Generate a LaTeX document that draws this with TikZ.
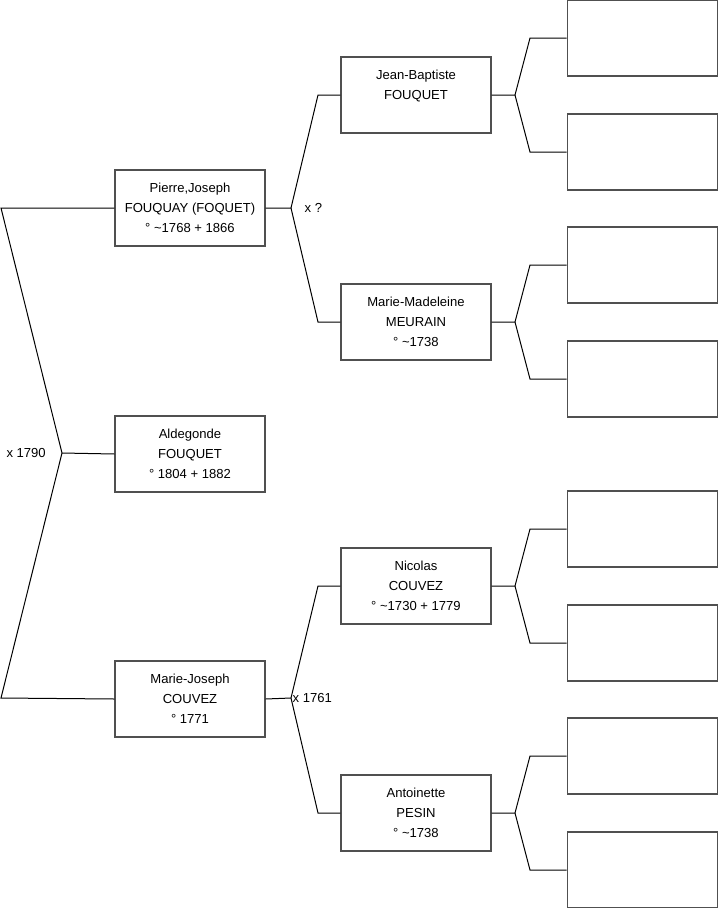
\documentclass[tikz,border=0pt]{standalone}
\usepackage{fontspec}
\setmainfont{Liberation Sans}
\usetikzlibrary{positioning}
\definecolor{boxgrey}{RGB}{80, 80, 80}
\tikzset{
  person/.style={
    draw=boxgrey,
    line width=0.8pt,
    fill=white,
    minimum width=112.5pt,
    minimum height=57pt,
    inner sep=0pt,
    align=center,
    font=\fontsize{9.8}{15}\selectfont
  },
  emptybox/.style={
    person,
    minimum width=113pt
  },
  link/.style={
    draw=black,
    line width=0.75pt
  },
  marriage/.style={
    inner sep=0pt,
    font=\fontsize{9.8}{11}\selectfont
  }
}

\begin{document}
\begin{tikzpicture}[x=0.75pt, y=-0.75pt]
  \useasboundingbox (0,0) rectangle (719,908);

  % generation 1 and 2
  \node[person] (pj) at (190,208) {Pierre,Joseph\\FOUQUAY (FOQUET)\\° \textasciitilde1768 + 1866};
  \node[person] (ald) at (190,454) {Aldegonde\\FOUQUET\\° 1804 + 1882};
  \node[person] (mj) at (190,699) {Marie-Joseph\\COUVEZ\\° 1771};

  \coordinate (top) at (1,208);
  \coordinate (mid) at (62,453);
  \coordinate (bot) at (1,698);
  \draw[link] (pj.west) -- (top) -- (mid) -- (bot) -- (mj.west);
  \draw[link] (mid) -- (ald.west);
  \node[marriage, left=12pt of mid] (m1790) {x 1790};

  % generation 3
  \node[person] (jb) at (416,95) {Jean-Baptiste\\FOUQUET\\\mbox{}};
  \node[person] (mm) at (416,322) {Marie-Madeleine\\MEURAIN\\° \textasciitilde1738};
  \node[person] (nc) at (416,586) {Nicolas\\COUVEZ\\° \textasciitilde1730 + 1779};
  \node[person] (an) at (416,813) {Antoinette\\PESIN\\° \textasciitilde1738};

  \coordinate (pjf) at (291,208);
  \coordinate (pju) at (318,95);
  \coordinate (pjd) at (318,322);
  \draw[link] (pj.east) -- (pjf) -- (pju) -- (jb.west);
  \draw[link] (pjf) -- (pjd) -- (mm.west);
  \node[marriage, right=10pt of pjf] (mq) {x ?};

  \coordinate (mjf) at (291,698);
  \coordinate (mju) at (318,586);
  \coordinate (mjd) at (318,813);
  \draw[link] (mj.east) -- (mjf) -- (mju) -- (nc.west);
  \draw[link] (mjf) -- (mjd) -- (an.west);
  \node[marriage, right=1pt of mjf] (m1761) {x 1761};

  % generation 4 (empty)
  \foreach \p/\y in {jb/95, mm/322, nc/586, an/813} {
    \coordinate (\p f) at (515,\y);
    \coordinate (\p u) at (530,\y-57);
    \coordinate (\p d) at (530,\y+57);
    \node[emptybox] (\p a) at (642.5,\y-57) {};
    \node[emptybox] (\p b) at (642.5,\y+57) {};
    \draw[link] (\p.east) -- (\p f) -- (\p u) -- (\p a.west);
    \draw[link] (\p f) -- (\p d) -- (\p b.west);
  }
\end{tikzpicture}
\end{document}
